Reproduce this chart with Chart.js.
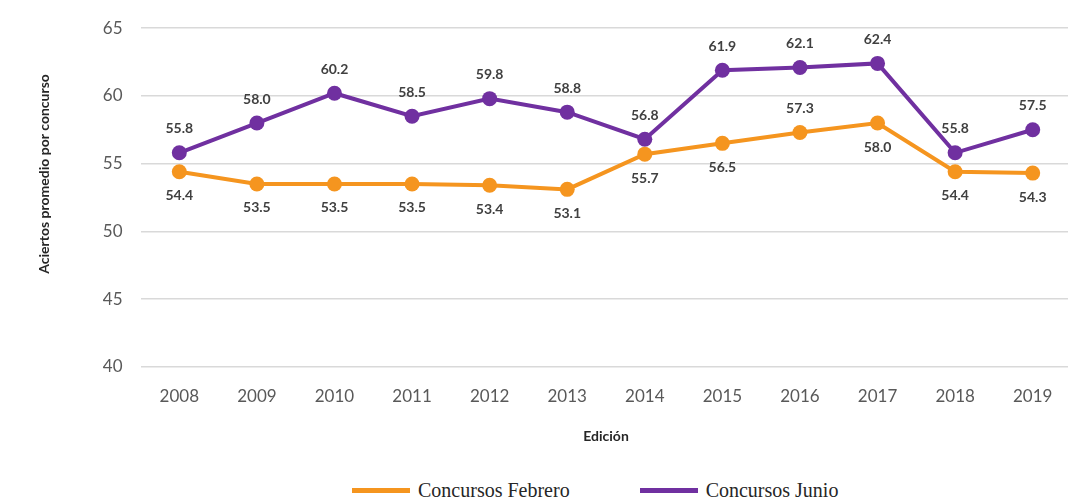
<!DOCTYPE html>
<html>
<head>
<meta charset="utf-8">
<script src="https://cdn.jsdelivr.net/npm/chart.js@4/dist/chart.umd.min.js"></script>
<style>
  html, body { margin: 0; padding: 0; background: #fff; overflow: hidden; }
  #wrap { position: relative; width: 1068px; height: 503px; overflow: hidden; }
  #chart { position: absolute; left: 0; top: 0; }
  #legend {
    position: absolute; left: 352px; top: 479px;
    display: flex; align-items: center;
    font-family: "Liberation Serif", "Times New Roman", serif;
    font-size: 20px; color: #262626; white-space: nowrap;
  }
  .item { display: flex; align-items: center; }
  .item + .item { margin-left: 70px; }
  .swatch { width: 58px; height: 5px; margin-right: 8px; }
</style>
</head>
<body>
<div id="wrap">
  <canvas id="chart" width="1079" height="470"></canvas>
  <div id="legend"></div>
</div>
<script>
// Data
const years = ['2008', '2009', '2010', '2011', '2012', '2013', '2014', '2015', '2016', '2017', '2018', '2019'];
const febrero = [54.4, 53.5, 53.5, 53.5, 53.4, 53.1, 55.7, 56.5, 57.3, 58.0, 54.4, 54.3];
const junio = [55.8, 58.0, 60.2, 58.5, 59.8, 58.8, 56.8, 61.9, 62.1, 62.4, 55.8, 57.5];

const orange = '#F5951F';
const purple = '#7030A0';
const sans = 'Lato, "Open Sans", sans-serif';

// value labels: purple above, orange below (2016 goes above)
const valueLabels = {
  id: 'valueLabels',
  afterDatasetsDraw(chart) {
    const ctx = chart.ctx;
    ctx.save();
    ctx.font = 'bold 14px ' + sans;
    ctx.fillStyle = '#404040';
    ctx.textAlign = 'center';
    ctx.textBaseline = 'middle';
    chart.data.datasets.forEach((ds, di) => {
      const meta = chart.getDatasetMeta(di);
      meta.data.forEach((pt, i) => {
        let above = di === 1;
        if (di === 0 && years[i] === '2016') above = true;
        const dy = above ? -24 : 24;
        ctx.fillText(ds.data[i].toFixed(1), pt.x, pt.y + dy);
      });
    });
    ctx.restore();
  }
};

function line(label, data, color) {
  return {
    label: label,
    data: data,
    borderColor: color,
    backgroundColor: color,
    borderWidth: 4,
    pointRadius: 7.5,
    pointBackgroundColor: color,
    pointBorderWidth: 0,
    tension: 0
  };
}

const chart = new Chart(document.getElementById('chart').getContext('2d'), {
  type: 'line',
  data: {
    labels: years,
    datasets: [
      line('Concursos Febrero', febrero, orange),
      line('Concursos Junio', junio, purple)
    ]
  },
  options: {
    responsive: false,
    animation: false,
    layout: { padding: { left: 36, right: 0, top: 6, bottom: 25 } },
    plugins: {
      legend: { display: false },
      tooltip: { enabled: false }
    },
    scales: {
      x: {
        offset: true,
        grid: { display: false },
        border: { display: false },
        ticks: {
          color: '#595959',
          padding: 12,
          font: { family: sans, size: 17 }
        },
        title: {
          display: true,
          text: 'Edición',
          color: '#262626',
          padding: { top: 9, bottom: 0 },
          font: { family: sans, size: 14, weight: 'bold' }
        }
      },
      y: {
        min: 40,
        max: 65,
        ticks: {
          stepSize: 5,
          color: '#595959',
          padding: 18,
          font: { family: sans, size: 17 }
        },
        grid: { color: '#D9D9D9', lineWidth: 1.5, drawTicks: false },
        border: { display: false },
        title: {
          display: true,
          // leading spaces nudge the title up like in the original
          text: '\u00A0'.repeat(14) + 'Aciertos promedio por concurso',
          color: '#262626',
          padding: { top: 0, bottom: 32 },
          font: { family: sans, size: 14, weight: 'bold' }
        }
      }
    }
  },
  plugins: [valueLabels]
});

// legend built from the chart's datasets
const legendEl = document.getElementById('legend');
chart.data.datasets.forEach(ds => {
  const item = document.createElement('div');
  item.className = 'item';
  item.innerHTML = `<span class="swatch" style="background:${ds.borderColor}"></span><span>${ds.label}</span>`;
  legendEl.appendChild(item);
});
</script>
</body>
</html>
